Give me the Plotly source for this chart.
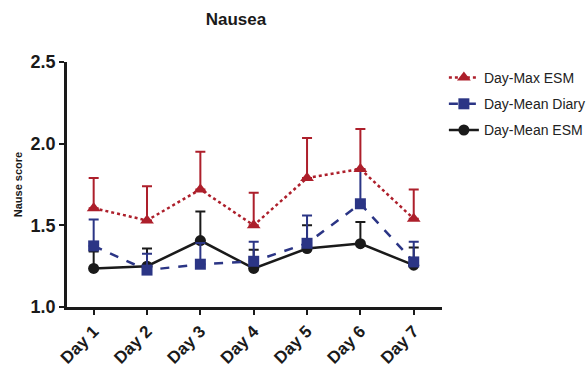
import plotly.graph_objects as go

days = ["Day 1", "Day 2", "Day 3", "Day 4", "Day 5", "Day 6", "Day 7"]

max_esm = [1.605, 1.53, 1.72, 1.50, 1.79, 1.845, 1.54]
max_esm_err = [0.185, 0.21, 0.23, 0.20, 0.245, 0.245, 0.18]

mean_diary = [1.374, 1.226, 1.262, 1.28, 1.39, 1.632, 1.276]
mean_diary_err = [0.161, 0.10, 0.13, 0.12, 0.17, 0.21, 0.124]

mean_esm = [1.236, 1.25, 1.407, 1.236, 1.358, 1.388, 1.256]
mean_esm_err = [0.104, 0.108, 0.178, 0.114, 0.142, 0.132, 0.108]

RED = "#AD1F2B"
BLUE = "#2B3585"
BLACK = "#1A1A1A"

x_idx = list(range(len(days)))


def series(name, y, err, color, dash, symbol, size, rank):
    return go.Scatter(
        x=x_idx, y=y, name=name, legendgroup=name, legendrank=rank,
        mode="lines+markers",
        line=dict(color=color, width=2.5, dash=dash),
        marker=dict(color=color, symbol=symbol, size=size),
        error_y=dict(type="data", array=err, arrayminus=[0] * len(err),
                     symmetric=False, color=color, thickness=2, width=5),
    )


fig = go.Figure()
# drawn bottom to top: black, blue, red
fig.add_trace(series("Day-Mean ESM", mean_esm, mean_esm_err, BLACK, "solid", "circle", 11, 3))
fig.add_trace(series("Day-Mean Diary", mean_diary, mean_diary_err, BLUE, "dash", "square", 11, 2))
fig.add_trace(series("Day-Max ESM", max_esm, max_esm_err, RED, "dot", "triangle-up", 12, 1))

fig.update_layout(
    width=587, height=368,
    margin=dict(l=67, r=145, t=62, b=61, autoexpand=False),
    plot_bgcolor="white", paper_bgcolor="white",
    font=dict(family="Liberation Sans, Arial", color="#1A1A1A"),
    title=dict(text="<b>Nausea</b>", x=0.402, xanchor="center", y=0.948, yanchor="middle",
               font=dict(size=17, color="#1A1A1A")),
    showlegend=True,
    legend=dict(x=1.005, y=1.0, xanchor="left", yanchor="top", traceorder="grouped",
                font=dict(size=14, color="#222222"), bgcolor="rgba(0,0,0,0)",
                itemwidth=30, tracegroupgap=5),
)

fig.update_xaxes(
    range=[-0.5, 6.53], tickmode="array", tickvals=x_idx,
    ticktext=["<b>%s</b>" % d for d in days], tickangle=-45,
    tickfont=dict(size=17, color="#1A1A1A"), automargin=False,
    showline=True, linecolor="#1A1A1A", linewidth=2.5,
    ticks="outside", ticklen=5, tickwidth=2, tickcolor="#1A1A1A",
    showgrid=False, zeroline=False,
)
fig.update_yaxes(
    range=[1.0, 2.5], tickvals=[1.0, 1.5, 2.0, 2.5],
    ticktext=["<b>1.0</b>", "<b>1.5</b>", "<b>2.0</b>", "<b>2.5</b>"],
    tickfont=dict(size=18, color="#1A1A1A"), automargin=False,
    title=dict(text="<b>Nause score</b>", font=dict(size=11, color="#1A1A1A"), standoff=6),
    showline=True, linecolor="#1A1A1A", linewidth=2.5,
    ticks="outside", ticklen=5, tickwidth=2, tickcolor="#1A1A1A",
    showgrid=False, zeroline=False,
)

fig.write_html("out.html")
